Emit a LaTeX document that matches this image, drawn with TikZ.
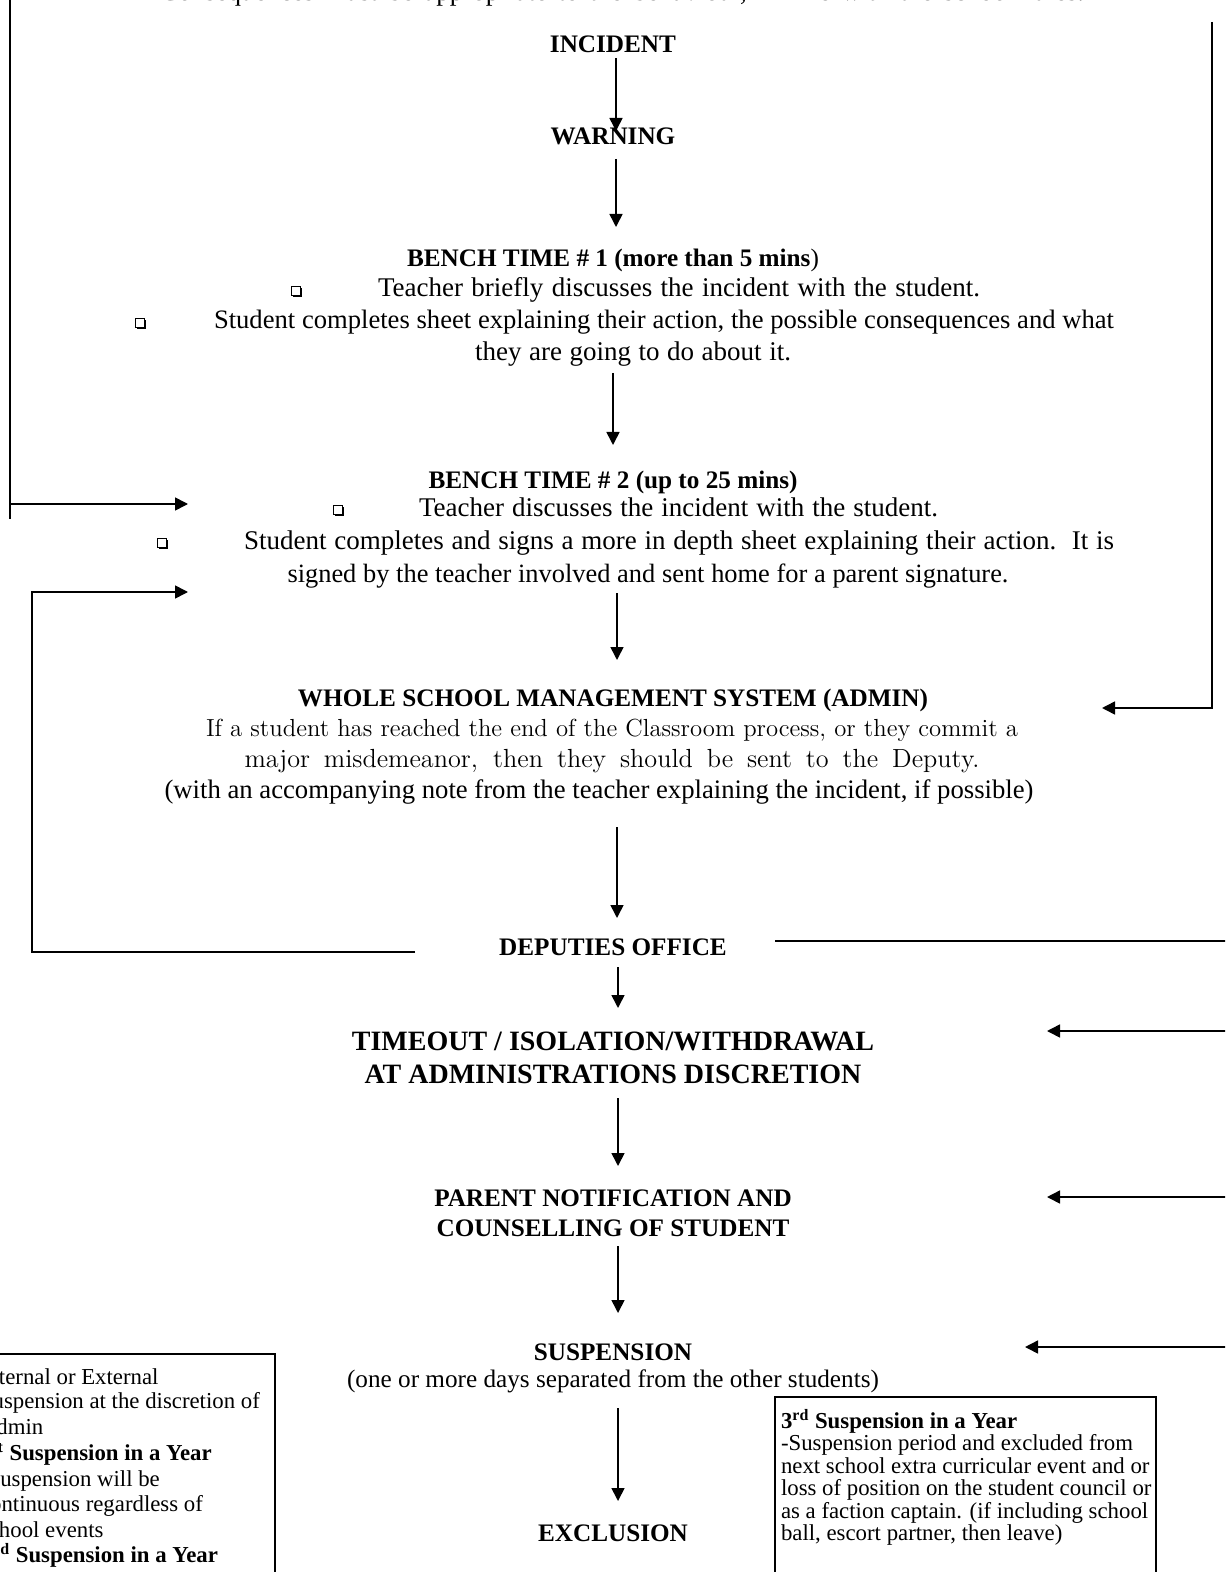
\documentclass[tikz,border=0pt]{standalone}
\usepackage{fontspec}
\setmainfont{Liberation Serif}
\newfontfamily\lmfont{Latin Modern Roman}
\usetikzlibrary{arrows.meta,shadows}
\newcommand{\fitw}[2]{\makebox[#1][s]{#2}}
\newcommand{\fs}[1]{\fontsize{#1}{15}\selectfont}
\begin{document}
\begin{tikzpicture}[x=0.5pt,y=-0.5pt,
  txt/.style={inner sep=0pt, outer sep=0pt, anchor=base, font=\fontsize{13.5}{15}\selectfont},
  lft/.style={txt, anchor=base west},
  hd/.style={txt, font=\fontsize{12.6}{14}\selectfont\bfseries},
  big/.style={txt, font=\fontsize{14}{16}\selectfont\bfseries},
  gar/.style={txt, font=\lmfont\fontsize{12.6}{14}\selectfont},
  bx/.style={txt, anchor=base west, font=\fontsize{11.4}{12}\selectfont},
  bxb/.style={bx, font=\fontsize{11.4}{12}\selectfont\bfseries},
  ln/.style={line width=0.8pt},
  arr/.style={line width=0.8pt, -{Triangle[length=6.5pt,width=6.5pt]}},
  bul/.style={draw, line width=0.45pt, fill=white, minimum size=4.8pt, inner sep=0pt,
    drop shadow={shadow xshift=0.7pt, shadow yshift=-0.7pt, opacity=1, fill=black}}
]
\useasboundingbox (0,0) rectangle (1225,1572);
\clip (0,0) rectangle (1225,1572);

% clipped top line
\node[txt] (top) at (622,0.4) {\fitw{462pt}{Consequences must be appropriate to the behaviour, in line with the school rules.}};

% main column
\node[hd] (incident) at (613,53) {INCIDENT};
\node[hd] (warning) at (613,145) {WARNING};
\node[hd] (bt1) at (613,267) {BENCH TIME \# 1 (more than 5 mins\textmd{)}};
\node[bul] (b1) at (296,291) {};
\node[lft] (t1a) at (378,297) {\fitw{301pt}{Teacher briefly discusses the incident with the student.}};
\node[bul] (b2) at (140,323) {};
\node[lft, font=\fs{13.3}] (t1b) at (214,329) {\fitw{450pt}{Student completes sheet explaining their action, the possible consequences and what}};
\node[txt] (t1c) at (633,361) {\fitw{158pt}{they are going to do about it.}};
\node[hd] (bt2) at (613,488) {BENCH TIME \# 2 (up to 25 mins)};
\node[bul] (b3) at (338,510) {};
\node[lft] (t2a) at (419,516) {\fitw{259.5pt}{Teacher discusses the incident with the student.}};
\node[bul] (b4) at (162,543) {};
\node[lft] (t2b) at (244,549) {\fitw{435pt}{Student completes and signs a more in depth sheet explaining their action.\ \ It is}};
\node[txt, font=\fs{13.2}] (t2c) at (648,582) {\fitw{360.5pt}{signed by the teacher involved and sent home for a parent signature.}};
\node[hd] (wsms) at (613,706) {WHOLE SCHOOL MANAGEMENT SYSTEM (ADMIN)};
\node[gar, font=\lmfont\fs{12.35}] (w1) at (612,736) {\fitw{406pt}{If a student has reached the end of the Classroom process, or they commit a}};
\node[gar, font=\lmfont\fs{13.1}] (w2) at (612,767) {\fitw{367.5pt}{major misdemeanor, then they should be sent to the Deputy.}};
\node[txt, font=\fs{13.35}] (w3) at (599,798) {\fitw{434.5pt}{(with an accompanying note from the teacher explaining the incident, if possible)}};
\node[hd] (dep) at (613,955) {DEPUTIES OFFICE};
\node[big] (to1) at (613,1050) {TIMEOUT / ISOLATION/WITHDRAWAL};
\node[big] (to2) at (613,1083) {AT ADMINISTRATIONS DISCRETION};
\node[hd] (pn1) at (613,1206) {PARENT NOTIFICATION AND};
\node[hd] (pn2) at (613,1236) {COUNSELLING OF STUDENT};
\node[hd] (sus) at (613,1360) {SUSPENSION};
\node[txt, font=\fs{12.6}] (sus2) at (613,1387) {(one or more days separated from the other students)};
\node[hd] (exc) at (613,1541) {EXCLUSION};

% left box
\draw[ln] (-10,1354) rectangle (275,1600);
\node[bx] (l1) at (-20,1384) {Internal or External};
\node[bx] (l2) at (-20,1408) {Suspension at the discretion of};
\node[bx] (l3) at (-20,1434) {Admin};
\node[bxb] (l4) at (-20,1460) {1\textsuperscript{st} Suspension in a Year};
\node[bx] (l5) at (-20,1486) {-Suspension will be};
\node[bx] (l6) at (-20,1511) {continuous regardless of};
\node[bx] (l7) at (-20,1537) {school events};
\node[bxb] (l8) at (-20,1562) {2\textsuperscript{nd} Suspension in a Year};

% right box
\draw[ln] (775,1397) rectangle (1156,1600);
\node[bxb] (r1) at (781,1428) {3\textsuperscript{rd} Suspension in a Year};
\node[bx] (r2) at (781,1450) {-Suspension period and excluded from};
\node[bx] (r3) at (781,1473) {next school extra curricular event and or};
\node[bx] (r4) at (781,1495) {loss of position on the student council or};
\node[bx] (r5) at (781,1518) {as a faction captain. (if including school};
\node[bx] (r6) at (781,1540) {ball, escort partner, then leave)};

% coordinates for connectors
\coordinate (c1a) at (616,58);   \coordinate (c1b) at (616,131);
\coordinate (c2a) at (616,159);  \coordinate (c2b) at (616,227);
\coordinate (c3a) at (613,373);  \coordinate (c3b) at (613,445);
\coordinate (c4a) at (617,593);  \coordinate (c4b) at (617,660);
\coordinate (c5a) at (617,827);  \coordinate (c5b) at (617,918);
\coordinate (c6a) at (618,967);  \coordinate (c6b) at (618,1008);
\coordinate (c7a) at (618,1098); \coordinate (c7b) at (618,1166);
\coordinate (c8a) at (618,1246); \coordinate (c8b) at (618,1313);
\coordinate (c9a) at (618,1408); \coordinate (c9b) at (618,1501);

\draw[arr] (c1a) -- (c1b);
\draw[arr] (c2a) -- (c2b);
\draw[arr] (c3a) -- (c3b);
\draw[arr] (c4a) -- (c4b);
\draw[arr] (c5a) -- (c5b);
\draw[arr] (c6a) -- (c6b);
\draw[arr] (c7a) -- (c7b);
\draw[arr] (c8a) -- (c8b);
\draw[arr] (c9a) -- (c9b);

% left loops
\coordinate (L1t) at (10,-5); \coordinate (L1b) at (10,519);
\coordinate (L1m) at (10,504); \coordinate (L1e) at (188,504);
\draw[ln] (L1t) -- (L1b);
\draw[arr] (L1m) -- (L1e);

\coordinate (L2s) at (415,952); \coordinate (L2c1) at (32,952);
\coordinate (L2c2) at (32,592); \coordinate (L2e) at (188,592);
\draw[arr] (L2s) -- (L2c1) -- (L2c2) -- (L2e);

% right loops
\coordinate (R1s) at (1212,22); \coordinate (R1c) at (1212,708); \coordinate (R1e) at (1102,708);
\draw[arr] (R1s) -- (R1c) -- (R1e);

\coordinate (R2s) at (775,941); \coordinate (R2e) at (1230,941);
\draw[ln] (R2s) -- (R2e);
\coordinate (R3s) at (1230,1031); \coordinate (R3e) at (1047,1031);
\coordinate (R4s) at (1230,1197); \coordinate (R4e) at (1047,1197);
\coordinate (R5s) at (1230,1347); \coordinate (R5e) at (1025,1347);
\draw[arr] (R3s) -- (R3e);
\draw[arr] (R4s) -- (R4e);
\draw[arr] (R5s) -- (R5e);
\end{tikzpicture}
\end{document}
